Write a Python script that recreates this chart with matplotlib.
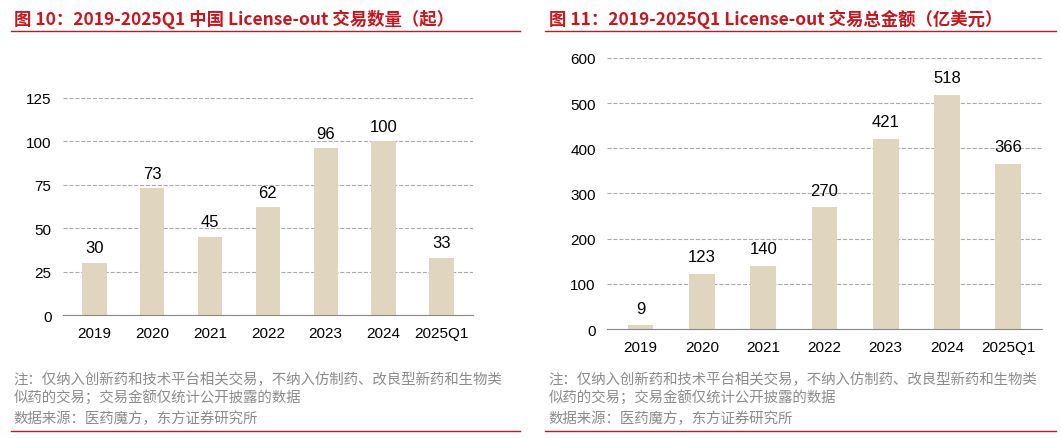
import matplotlib.pyplot as plt
from matplotlib.lines import Line2D

plt.rcParams["font.family"] = ["Liberation Sans", "Noto Sans CJK SC"]

years = ["2019", "2020", "2021", "2022", "2023", "2024", "2025Q1"]
deal_counts = [30, 73, 45, 62, 96, 100, 33]
deal_amounts = [9, 123, 140, 270, 421, 518, 366]

bar_color = "#E0D5BE"
red = "#C8161E"
grey = "#8C8C8C"

fig = plt.figure(figsize=(10.61, 4.39), dpi=100)


def panel(rect, values, yticks, title, x0, x1):
    ax = fig.add_axes(rect)
    x = range(len(years))
    ax.bar(x, values, width=0.42, color=bar_color, zorder=2)
    off = yticks[-1] * 0.035
    for xi, v in zip(x, values):
        ax.text(xi, v + off, str(v), ha="center", va="bottom", fontsize=12)
    ax.set_xticks(list(x))
    ax.set_xticklabels(years, fontsize=11)
    ax.set_yticks(yticks)
    ax.set_yticklabels([str(t) for t in yticks], fontsize=11)
    ax.set_ylim(0, yticks[-1])
    ax.set_xlim(-0.55, len(years) - 0.45)
    ax.yaxis.grid(True, linestyle="--", color="#AAAAAA", linewidth=0.8, zorder=0)
    for s in ["top", "right", "left"]:
        ax.spines[s].set_visible(False)
    ax.spines["bottom"].set_color("#888888")
    ax.tick_params(axis="both", length=0, pad=8)
    # title, rules and notes
    fig.text(x0 + 0.003, 0.955, title, color=red, fontsize=12.5, fontweight="bold",
             family="Noto Sans CJK SC", va="center")
    fig.add_artist(Line2D([x0, x1], [0.928, 0.928], color=red, linewidth=1))
    fig.add_artist(Line2D([x0, x1], [0.016, 0.016], color=red, linewidth=1))
    fig.text(x0 + 0.003, 0.135, "注：仅纳入创新药和技术平台相关交易，不纳入仿制药、改良型新药和生物类",
             color=grey, fontsize=10.4, family="Noto Sans CJK SC", va="center")
    fig.text(x0 + 0.003, 0.092, "似药的交易；交易金额仅统计公开披露的数据",
             color=grey, fontsize=10.4, family="Noto Sans CJK SC", va="center")
    fig.text(x0 + 0.003, 0.045, "数据来源：医药魔方，东方证券研究所",
             color=grey, fontsize=10.4, family="Noto Sans CJK SC", va="center")
    return ax


panel([0.059, 0.280, 0.387, 0.495], deal_counts, [0, 25, 50, 75, 100, 125],
      "图 10：2019-2025Q1 中国 License-out 交易数量（起）", 0.010, 0.490)
panel([0.572, 0.248, 0.410, 0.618], deal_amounts, [0, 100, 200, 300, 400, 500, 600],
      "图 11：2019-2025Q1 License-out 交易总金额（亿美元）", 0.514, 0.995)

fig.savefig("out.png", dpi=100)
